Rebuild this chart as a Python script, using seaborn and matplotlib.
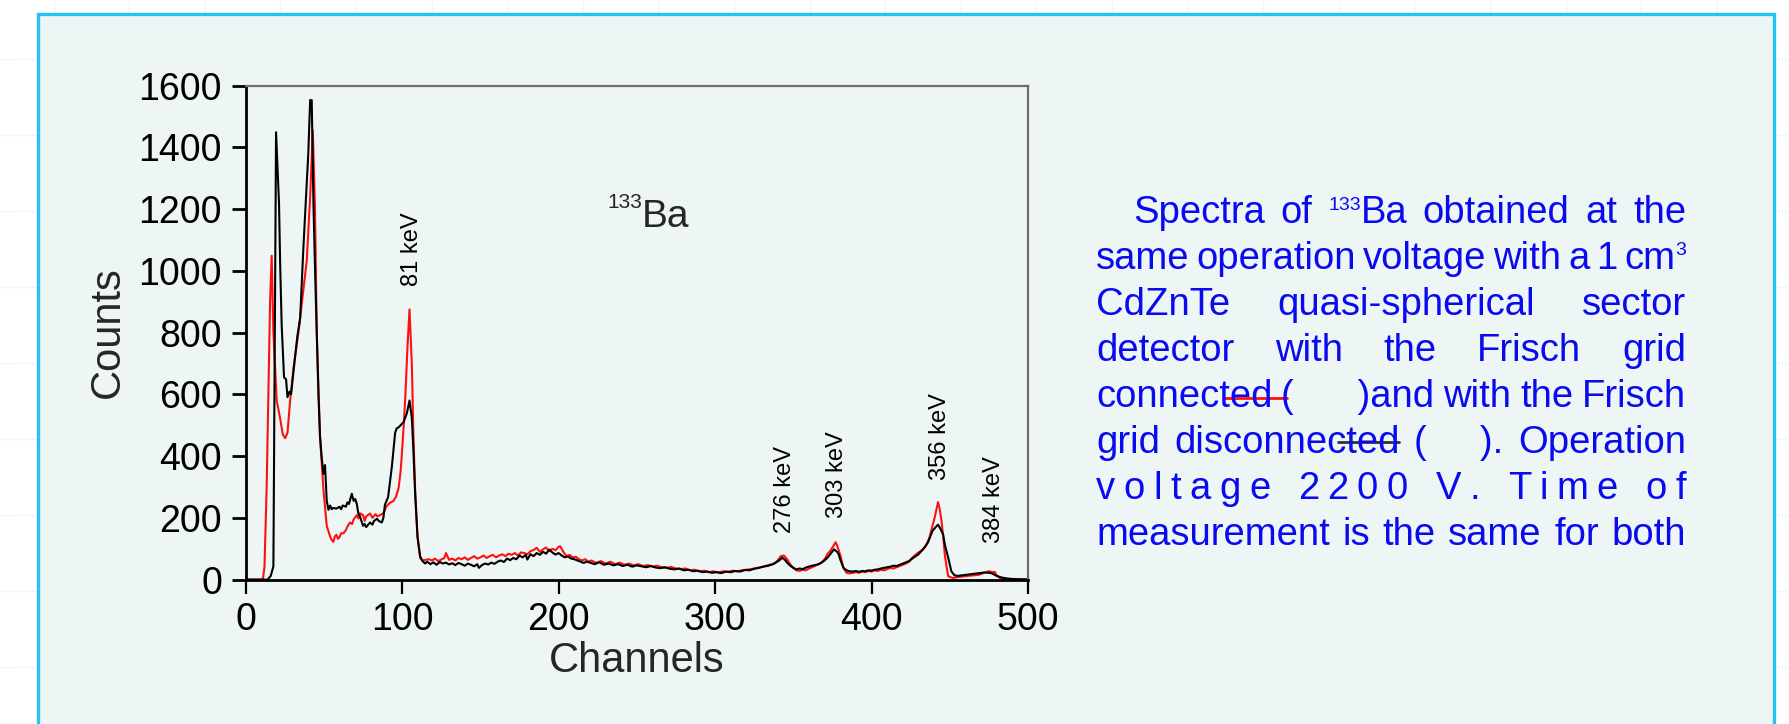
import numpy as np
import pandas as pd
import matplotlib
matplotlib.use("Agg")
import matplotlib.pyplot as plt
from matplotlib.lines import Line2D
from matplotlib.patches import Rectangle
import seaborn as sns

# ---------------------------------------------------------------------------
# 133Ba spectra, CdZnTe quasi-spherical sector detector
# ---------------------------------------------------------------------------
# Frisch grid connected (red)
connected_ch = [
    0, 10, 11, 12, 13.4, 15.6, 16.6, 17.7, 19.8, 22, 23.7, 25.2, 26.7, 28.4, 30.5,
    33.7, 35.8, 39, 41.2, 42.9, 44.3, 45.4, 47.5, 49.7, 51.8, 54, 55, 56, 57, 58,
    59, 60, 61, 62.5, 64, 65, 66.7, 68, 69, 71, 72, 73, 75, 76, 77, 79.5, 81, 83,
    84, 86, 88, 90, 92, 94.5, 96, 97.7, 99, 99.8, 101, 101.9, 103.4, 104.7, 106.2,
    107.2, 108.3, 109.8, 111.5, 113, 115,
    117, 119, 121, 123, 125, 127, 128, 130, 132, 134, 136, 138, 140, 142, 144, 146,
    148, 150, 152, 154, 156, 158, 160, 162, 164, 166, 168, 170, 172, 174, 176, 178,
    180, 182, 184, 186, 188, 190, 192, 194, 196, 198, 200, 201, 203, 205, 207, 209,
    211, 213, 215, 217, 219, 221, 224, 227, 230, 233, 236, 239, 242, 245, 248, 251,
    254, 257, 260, 263, 266, 269, 272, 275, 278, 281, 284, 287, 290, 293, 296, 299,
    302, 305, 308, 311, 314, 317, 320, 323, 326, 329, 332, 335, 338, 340, 342, 344,
    346, 348, 350, 352, 354, 356, 358, 360, 362, 364, 366, 368, 370, 372, 374, 376,
    377, 378, 380, 382, 384, 386, 388, 390, 392, 394, 396, 398, 400, 402, 404, 406,
    408, 410, 412, 414, 416, 418, 420, 422, 424, 426, 428, 430, 433, 435, 437, 438.5,
    440.4, 442.5, 443.5, 444.7, 445.8, 446.8, 448, 449, 452, 455, 458, 460.6, 463,
    466, 469, 472, 474, 475.5, 477, 478.7, 480, 482, 485, 490, 500,
]
connected_counts = [
    0, 0, 2, 40, 301, 904, 1049, 800, 580, 522, 470, 458, 475, 580, 684,
    800, 893, 1032, 1240, 1455, 1194, 800, 464, 290, 174, 139, 128, 122, 140, 145,
    132, 138, 150, 150, 160, 172, 185, 180, 195, 209, 198, 215, 209, 190, 205, 214, 200, 212,
    205, 209, 215, 238, 248, 255, 268, 296, 350, 406, 500, 580, 754, 875, 696,
    464, 290, 139, 70, 62, 64,
    66, 62, 68, 60, 65, 70, 86, 64, 68, 62, 70, 66, 72, 64, 70, 76,
    68, 72, 78, 70, 76, 80, 72, 78, 82, 76, 84, 80, 86, 78, 88, 86,
    82, 92, 96, 103, 90, 98, 104, 92, 100, 95, 106, 108, 90, 76, 80, 72,
    74, 66, 62, 66, 58, 62, 54, 60, 52, 58, 50, 55, 48, 52, 46, 50,
    44, 47, 42, 45, 40, 38, 41, 36, 34, 36, 30, 32, 26, 29, 24, 27,
    23, 27, 25, 29, 27, 30, 32, 34, 37, 40, 44, 48, 52, 62, 76, 78,
    66, 50, 38, 30, 28, 32, 30, 36, 40, 45, 49, 55, 66, 84, 96, 112,
    121, 110, 80, 38, 22, 20, 22, 24, 22, 26, 24, 28, 26, 30, 28, 32,
    30, 34, 38, 36, 40, 44, 48, 52, 58, 71, 80, 88, 98, 112, 136, 165,
    202, 251, 230, 191, 140, 82, 40, 11, 5, 8, 10, 11, 13,
    14, 16, 22, 26, 27, 24, 25, 14, 5, 2, 1, 0,
]

# Frisch grid disconnected (black)
disconnected_ch = [
    0, 14, 16, 17.7, 19.4, 21.3, 22, 23, 24.5, 25.8, 26.7, 28, 29, 30.5, 33, 34.8,
    36.9, 38.6, 40, 41.2, 42.2, 43.3, 44.3, 45.4, 46.5, 47.5, 48.6, 49.7, 50.7, 51.8,
    52.9, 54, 55, 56, 58, 60, 61, 62, 64, 65, 66, 67.8, 69, 70, 71, 72, 73, 75, 76,
    77, 79.5, 81, 82, 84, 85, 87, 88, 89, 91, 93.4, 95.5, 96.5, 97.7, 99, 100.9, 102,
    103, 104.7, 106.2, 107.2, 108.3, 109.8, 111.5, 113, 114.7,
    116, 118, 120, 122, 124, 126, 128, 130, 132, 134, 136, 138, 140, 142, 144, 146,
    148, 149, 151, 153, 155, 157, 159, 161, 163, 165, 167, 169, 171, 173, 175, 177,
    179, 180, 182, 184, 186, 188, 190, 192, 194, 196, 198, 200, 202, 204, 206, 208,
    210, 212, 214, 216, 218, 220, 223, 226, 229, 232, 235, 238, 241, 244, 247, 250,
    253, 256, 259, 262, 265, 268, 271, 274, 277, 280, 283, 286, 289, 292, 295, 298,
    301, 304, 307, 310, 313, 316, 319, 322, 325, 328, 331, 334, 337, 339, 341, 343,
    345, 346, 348, 350, 352, 354, 356, 358, 360, 362, 364, 366, 368, 370, 372, 374,
    376, 378, 379, 380, 382, 384, 386, 388, 390, 392, 394, 396, 398, 400, 402, 404,
    406, 408, 410, 412, 414, 416, 418, 420, 422, 424, 426, 428, 430, 432, 434, 436,
    438, 439, 441, 442.5, 444, 445.7, 447, 449, 451, 453, 455, 458, 460, 463, 466,
    469, 472, 475, 477, 480, 483, 486, 490, 495, 500,
]
disconnected_counts = [
    0, 0, 12, 43, 1449, 1217, 1026, 823, 655, 649, 591, 609, 600, 672, 788, 846,
    1078, 1240, 1380, 1553, 1553, 1217, 1009, 800, 597, 464, 394, 342, 371, 255,
    226, 240, 228, 232, 230, 236, 228, 240, 236, 250, 245, 278, 255, 261, 245, 214, 205, 174, 180,
    170, 185, 178, 190, 197, 190, 185, 200, 243, 267, 365, 475, 490, 493, 500, 510, 525,
    539, 580, 522, 417, 278, 139, 75, 60, 52,
    58, 50, 56, 48, 57, 52, 55, 49, 53, 47, 54, 50, 45, 52, 48, 43,
    50, 38, 47, 52, 49, 55, 51, 58, 62, 57, 68, 63, 70, 66, 78, 72,
    80, 65, 82, 76, 86, 80, 90, 84, 97, 88, 81, 86, 78, 72, 75, 68,
    66, 62, 58, 54, 58, 55, 50, 56, 48, 52, 46, 50, 44, 48, 42, 46,
    43, 40, 44, 39, 37, 40, 35, 33, 36, 30, 32, 27, 29, 24, 26, 22,
    24, 21, 26, 24, 28, 26, 31, 30, 35, 38, 42, 45, 50, 56, 62, 71,
    62, 55, 45, 38, 33, 36, 34, 39, 42, 45, 47, 50, 55, 62, 72, 85,
    98, 90, 82, 65, 39, 30, 27, 26, 28, 25, 28, 27, 30, 29, 32, 33,
    36, 38, 40, 42, 45, 44, 48, 52, 56, 60, 68, 75, 82, 93, 105, 120,
    145, 158, 170, 178, 165, 147, 110, 71, 27, 14, 12, 14, 15, 17, 19,
    21, 23, 22, 20, 12, 7, 4, 2, 1, 1,
]

# Peak annotations: label, channel, count level where the label starts
peak_labels = ["81 keV", "276 keV", "303 keV", "356 keV", "384 keV"]
peak_label_ch = [106.5, 345, 378, 443.5, 478.5]
peak_label_y = [950, 150, 200, 322, 118]

x_ticks = [0, 100, 200, 300, 400, 500]
y_ticks = [0, 200, 400, 600, 800, 1000, 1200, 1400, 1600]

caption_lines = [
    ["Spectra", "of", [("133", 14, 13), ("Ba", None, 0)], "obtained", "at", "the"],
    ["same", "operation", "voltage", "with", "a", "1", [("cm", None, 0), ("3", 14, 14)]],
    ["CdZnTe", "quasi-spherical", "sector"],
    ["detector", "with", "the", "Frisch", "grid"],
    ["connected", "(      )and", "with", "the", "Frisch"],
    ["grid", "disconnected", "(     ).", "Operation"],
    "voltage 2200 V. Time of",
    ["measurement", "is", "the", "same", "for", "both"],
]

# ---------------------------------------------------------------------------
W, H, DPI = 1789, 724, 100
RED = "#FF1010"
BLUE = "#0A0AEE"
CAPTION_SIZE = 27.5

sns.set_style("ticks")
plt.rcParams["font.family"] = ["Liberation Sans", "DejaVu Sans"]

fig = plt.figure(figsize=(W / DPI, H / DPI), dpi=DPI, facecolor="white")


def fx(px):
    return px / W


def fy(py):
    return 1 - py / H


# faint slide grid behind the panel
for gx in np.arange(53.6, W, 75.6):
    fig.add_artist(Line2D([fx(gx)] * 2, [0, 1], transform=fig.transFigure,
                          color="#D2EEF6", lw=1, ls=(0, (1, 1.5)), zorder=-3))
for gy in np.arange(59, H, 76):
    fig.add_artist(Line2D([0, 1], [fy(gy)] * 2, transform=fig.transFigure,
                          color="#D2EEF6", lw=1, ls=(0, (1, 1.5)), zorder=-3))

# slide panel
panel = Rectangle((fx(37.6), -0.05), fx(1774) - fx(37.6), fy(14) + 0.05,
                  transform=fig.transFigure, facecolor="#EDF6F5",
                  edgecolor="#25C4F0", lw=2.4, zorder=-2)
fig.add_artist(panel)

# ---------------------------------------------------------------------------
ax = fig.add_axes([fx(245.7), fy(579.6), fx(1028) - fx(245.7), fy(85.6) - fy(579.6)])
ax.set_facecolor("none")

df_conn = pd.DataFrame({"Channels": connected_ch, "Counts": connected_counts})
df_disc = pd.DataFrame({"Channels": disconnected_ch, "Counts": disconnected_counts})

sns.lineplot(data=df_conn, x="Channels", y="Counts", color=RED, linewidth=1.5,
             estimator=None, sort=False, ax=ax, legend=False)
sns.lineplot(data=df_disc, x="Channels", y="Counts", color="black", linewidth=1.5,
             estimator=None, sort=False, ax=ax, legend=False)

ax.set_xlim(0, 500)
ax.set_ylim(0, 1600)
ax.set_xticks(x_ticks)
ax.set_yticks(y_ticks)

for side in ("left", "bottom"):
    ax.spines[side].set_color("black")
    ax.spines[side].set_linewidth(2)
for side in ("top", "right"):
    ax.spines[side].set_visible(True)
    ax.spines[side].set_color("#6E6E6E")
    ax.spines[side].set_linewidth(1.6)

ax.tick_params(axis="y", direction="out", length=10, width=2, labelsize=27,
               pad=7, colors="black")
ax.tick_params(axis="x", direction="out", length=10, width=1.6, labelsize=27,
               pad=6, colors="black")

ax.set_xlabel("Channels", fontsize=30, labelpad=2)
ax.set_ylabel("Counts", fontsize=30, labelpad=8)

for lab, ch, yv in zip(peak_labels, peak_label_ch, peak_label_y):
    ax.text(ch, yv, lab, rotation=90, ha="center", va="bottom", fontsize=17,
            color="black")

# isotope tag
fig.text(fx(642), fy(227), "Ba", fontsize=28, ha="left", va="baseline")
fig.text(fx(642), fy(208), "133", fontsize=15, ha="right", va="baseline")

# ---------------------------------------------------------------------------
# justified caption on the right
renderer = fig.canvas.get_renderer()


def text_width(s, size):
    t = fig.text(0, 0, s, fontsize=size)
    w = t.get_window_extent(renderer).width
    t.remove()
    return w


def word_pieces(word, size):
    if isinstance(word, str):
        return [(word, size, 0)]
    return [(s, size if sz is None else sz * size / CAPTION_SIZE, rise * size / CAPTION_SIZE)
            for s, sz, rise in word]


def word_width(word, size):
    return sum(text_width(s, sz) for s, sz, _ in word_pieces(word, size))


def draw_word(word, x, base, size):
    for s, sz, rise in word_pieces(word, size):
        fig.text(fx(x), fy(base - rise), s, fontsize=sz, color=BLUE,
                 ha="left", va="baseline")
        x += text_width(s, sz)


LEFT, RIGHT = 1096, 1686
baselines = [223 + 46 * i for i in range(len(caption_lines))]
word_x = {}

for i, (line, base) in enumerate(zip(caption_lines, baselines)):
    start = 1133 if i == 0 else LEFT
    size = CAPTION_SIZE
    if isinstance(line, str):
        # letter-spaced line
        space_w = text_width("a a", size) - text_width("aa", size)
        widths = [space_w if c == " " else text_width(c, size) for c in line]
        extra = (RIGHT - start - sum(widths)) / (len(line) - 1)
        x = start
        for c, w in zip(line, widths):
            if c != " ":
                fig.text(fx(x), fy(base), c, fontsize=size, color=BLUE,
                         ha="left", va="baseline")
            x += w + extra
        continue
    # shrink a tight line until its words fit with a small minimum gap
    while True:
        widths = [word_width(w, size) for w in line]
        gap = (RIGHT - start - sum(widths)) / (len(line) - 1)
        if gap >= 0.16 * size * DPI / 72 or size < 20:
            break
        size -= 0.25
    x = start
    for w, ww in zip(line, widths):
        draw_word(w, x, base, size)
        if isinstance(w, str) and w.startswith("("):
            word_x[i] = x
        x += ww + gap

# line samples inside the caption
px5 = word_x[4]
fig.add_artist(Line2D([fx(px5 - 56), fx(px5 + 6)], [fy(baselines[4] - 9)] * 2,
                      transform=fig.transFigure, color=RED, lw=2))
px6 = word_x[5]
fig.add_artist(Line2D([fx(px6 - 76), fx(px6 - 15)], [fy(baselines[5] - 11)] * 2,
                      transform=fig.transFigure, color="#333333", lw=2))

fig.savefig("out.png", dpi=DPI, facecolor="white")
